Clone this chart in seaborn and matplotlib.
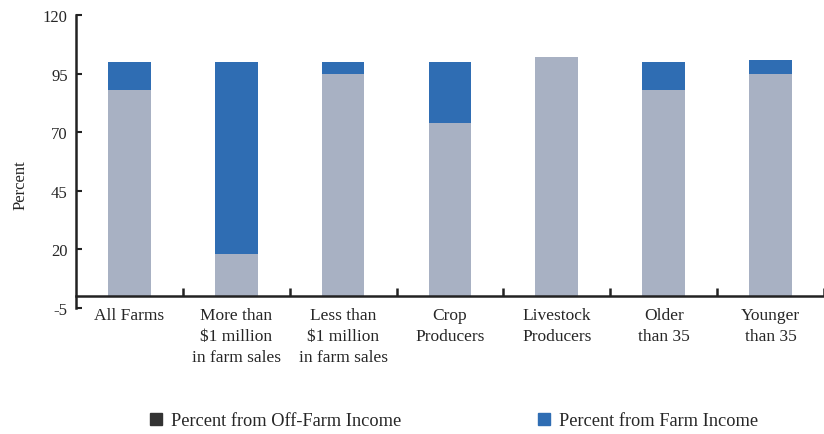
import matplotlib
matplotlib.use("Agg")
import matplotlib.pyplot as plt
from matplotlib.lines import Line2D
import seaborn as sns
import pandas as pd
import numpy as np

categories = ["All Farms", "More than\n$1 million\nin farm sales", "Less than\n$1 million\nin farm sales",
              "Crop\nProducers", "Livestock\nProducers", "Older\nthan 35", "Younger\nthan 35"]
off_farm = [88, 18, 95, 74, 102, 88, 95]
farm = [12, 82, 5, 26, 0, 12, 6]
yticks = [-5, 20, 45, 70, 95, 120]

sns.set_theme(style="white")
plt.rcParams["font.family"] = ["Liberation Serif", "DejaVu Serif"]

df = pd.DataFrame({"cat": categories, "off": off_farm, "farm": farm})
df["total"] = df["off"] + df["farm"]

fig = plt.figure(figsize=(8.24, 4.35), dpi=100)
ax = fig.add_axes([0.0922, 0.290, 0.9078, 0.673])

gray = "#A8B1C3"
blue = "#2F6DB3"
sns.barplot(data=df, x="cat", y="total", color=blue, saturation=1, width=0.4, ax=ax,
            order=categories, linewidth=0, edgecolor="none")
sns.barplot(data=df, x="cat", y="off", color=gray, saturation=1, width=0.4, ax=ax,
            order=categories, linewidth=0, edgecolor="none")

ax.set_xlim(-0.5, 6.5)
ax.set_ylim(-5, 120)
ax.set_yticks(yticks)
ax.set_yticklabels([str(t) for t in yticks], fontsize=12)
ax.set_xlabel("")
ax.set_ylabel("Percent", fontsize=12)
ax.yaxis.set_label_coords(-0.063, 0.423)

for s in ["top", "right"]:
    ax.spines[s].set_visible(False)
ax.spines["bottom"].set_position(("data", 0))
for s in ["bottom", "left"]:
    ax.spines[s].set_linewidth(1.8)
    ax.spines[s].set_color("#222222")

ax.set_xticks(range(len(categories)))
ax.set_xticklabels(categories, fontsize=12.5, linespacing=1.4, va="top")
ax.tick_params(axis="x", which="major", bottom=True, length=0, pad=8)
ax.set_xticks(np.arange(0.5, 7.0, 1.0), minor=True)
ax.tick_params(axis="x", which="minor", bottom=True, direction="in", length=6, width=1.8, color="#222222")
ax.tick_params(axis="y", which="major", left=True, direction="in", length=4, width=1.5, color="#222222", pad=6)

handles = [
    Line2D([], [], marker="s", linestyle="none", markersize=8.5, markerfacecolor="#333333", markeredgecolor="#333333"),
    Line2D([], [], marker="s", linestyle="none", markersize=8.5, markerfacecolor=blue, markeredgecolor=blue),
]
fig.legend(handles, ["Percent from Off-Farm Income", "Percent from Farm Income"],
           loc="center", bbox_to_anchor=(0.549, 0.03), ncol=2, frameon=False,
           fontsize=13.2, columnspacing=7.3, handletextpad=0.3, handlelength=1.0)

fig.savefig("out.png", dpi=100)
